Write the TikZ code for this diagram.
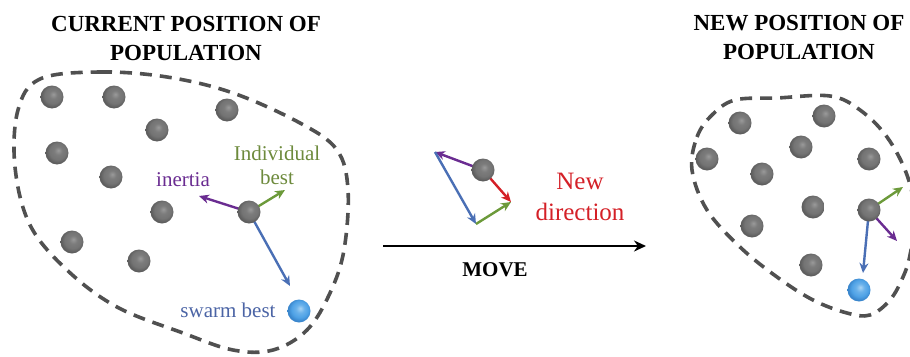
\documentclass[tikz,border=0pt]{standalone}
\usepackage{fontspec}
\setmainfont{Liberation Serif}
\usetikzlibrary{arrows.meta,backgrounds}
\definecolor{inertiaC}{HTML}{6A2C91}
\definecolor{indivC}{HTML}{6C9A3A}
\definecolor{indivT}{HTML}{6D8A3C}
\definecolor{swarmC}{HTML}{4A6FB5}
\definecolor{swarmT}{HTML}{4B64A5}
\definecolor{newC}{HTML}{D42027}
\definecolor{blobC}{HTML}{505050}
\definecolor{sphHi}{HTML}{9A9A9A}
\definecolor{sphMid}{HTML}{747474}
\definecolor{sphLo}{HTML}{5E5E5E}
\definecolor{bluHi}{HTML}{A8D4F5}
\definecolor{bluMid}{HTML}{4FA2E6}
\definecolor{bluLo}{HTML}{3A86CC}
% soft grey and blue spheres
\pgfdeclareradialshading{greysphere}{\pgfqpoint{3bp}{6bp}}{%
  color(0bp)=(sphHi); color(9bp)=(sphMid!80!sphHi); color(18bp)=(sphMid);
  color(25bp)=(sphLo); color(50bp)=(sphLo)}
\pgfdeclareradialshading{bluesphere}{\pgfqpoint{3bp}{6bp}}{%
  color(0bp)=(bluHi); color(9bp)=(bluMid!70!bluHi); color(18bp)=(bluMid);
  color(25bp)=(bluLo); color(50bp)=(bluLo)}
\tikzset{
  particle/.style={circle,minimum size=23pt,inner sep=0pt,shading=greysphere},
  bestball/.style={circle,minimum size=23pt,inner sep=0pt,shading=bluesphere},
  vec/.style={line width=2.4pt,-{Stealth[length=10pt,width=9pt]}},
  region/.style={blobC,line width=3.6pt,dash pattern=on 12pt off 8pt},
  heading/.style={font=\bfseries\fontsize{23}{29}\selectfont,align=center},
  lbl/.style={font=\fontsize{21}{24}\selectfont,align=center,inner sep=0pt}
}
\begin{document}
\begin{tikzpicture}[x=1pt,y=-1pt]
\useasboundingbox (0,0) rectangle (910,356);
\clip (0,0) rectangle (910,356);

% headings
\node[heading] (t1) at (186,38) {CURRENT POSITION OF\\POPULATION};
\node[heading] (t2) at (799,37) {NEW POSITION OF\\POPULATION};

% current population
\node[particle] (a1) at (52,97) {};
\node[particle] (a2) at (114,97) {};
\node[particle] (a3) at (227,110) {};
\node[particle] (a4) at (157,130) {};
\node[particle] (a5) at (57,153) {};
\node[particle] (a6) at (111,177) {};
\node[particle] (a7) at (162,212) {};
\node[particle] (am) at (249,212) {};
\node[particle] (a8) at (72,242) {};
\node[particle] (a9) at (139,261) {};
\node[bestball] (ab) at (299,311) {};
\coordinate (ai) at (199,196);
\coordinate (ap) at (285,190);
\coordinate (as) at (290,286);
\node[lbl,text=inertiaC] (li) at (183,180) {inertia};
\node[lbl,text=indivT] (lp) at (277,165) {Individual\\best};
\node[lbl,text=swarmT] (ls) at (228,310) {swarm best};

% velocity update
\node[particle] (mm) at (483,170) {};
\coordinate (mi) at (435,152);
\coordinate (ms) at (476,224);
\coordinate (mn) at (511,202);
\node[lbl,text=newC,font=\fontsize{25}{31}\selectfont] (ld) at (580,197) {New\\direction};
\coordinate (mv1) at (383,246);
\coordinate (mv2) at (646,246);
\node[font=\bfseries\fontsize{21}{24}\selectfont] (lm) at (495,270) {MOVE};

% new population
\node[particle] (b1) at (740,123) {};
\node[particle] (b2) at (824,116) {};
\node[particle] (b3) at (801,147) {};
\node[particle] (b4) at (707,159) {};
\node[particle] (b5) at (869,159) {};
\node[particle] (b6) at (762,174) {};
\node[particle] (b7) at (813,207) {};
\node[particle] (bm) at (869,210) {};
\node[particle] (b8) at (752,226) {};
\node[particle] (b9) at (811,265) {};
\node[bestball] (bb) at (859,290) {};
\coordinate (bp) at (903,187);
\coordinate (bi) at (897,241);
\coordinate (bs) at (863,273);

\begin{scope}[on background layer]
  \draw[region] plot[smooth cycle,tension=0.6] coordinates {
    (40,79) (100,72) (167,77) (233,93) (300,123) (337,150) (348,190)
    (344,250) (330,293) (307,330) (273,350) (233,350) (183,333)
    (117,307) (67,270) (30,225) (15,167) (18,110)};
  \draw[region] plot[smooth cycle,tension=0.6] coordinates {
    (692,170) (697,137) (712,115) (735,100) (777,98) (830,96) (860,110)
    (887,137) (907,175) (915,215) (910,255) (903,277) (890,300)
    (870,315) (847,313) (813,300) (777,277) (740,247) (707,210)};

  \draw[vec,inertiaC] (am.center) -- (ai);
  \draw[vec,indivC] (am.center) -- (ap);
  \draw[vec,swarmC] (am.center) -- (as);

  \draw[vec,inertiaC] (mm.center) -- (mi);
  \draw[vec,swarmC] (mi) -- (ms);
  \draw[vec,indivC] (ms) -- (mn);
  \draw[vec,newC] (mm.center) -- (mn);

  \draw[vec,indivC] (bm.center) -- (bp);
  \draw[vec,inertiaC] (bm.center) -- (bi);
  \draw[vec,swarmC] (bm.center) -- (bs);
\end{scope}

\draw[line width=2.6pt,-{Stealth[length=12pt,width=11pt]}] (mv1) -- (mv2);
\end{tikzpicture}
\end{document}
